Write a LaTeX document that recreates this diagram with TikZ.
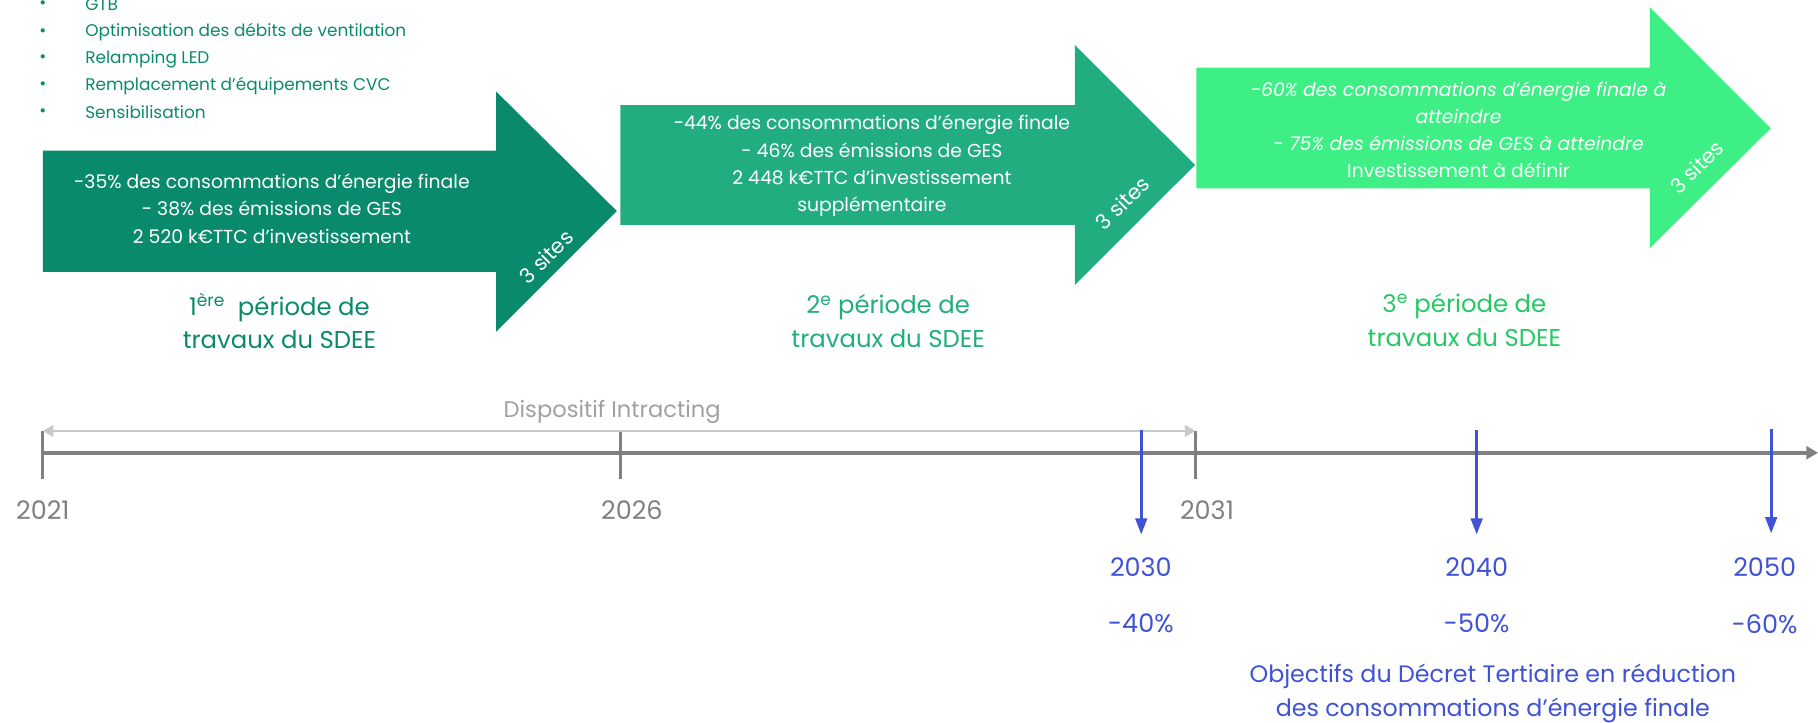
\documentclass[tikz,border=0pt]{standalone}
\usepackage{fontspec}
\setmainfont{Poppins}
\usetikzlibrary{arrows.meta}
\definecolor{gA}{HTML}{0A8A6C}
\definecolor{gB}{HTML}{22AD80}
\definecolor{gC}{HTML}{3DEF85}
\definecolor{gCt}{HTML}{26C864}
\definecolor{tl}{HTML}{808080}
\definecolor{tlL}{HTML}{C8C8C8}
\definecolor{tlT}{HTML}{A0A0A0}
\definecolor{bl}{HTML}{4052D6}
\begin{document}
\begin{tikzpicture}[x=1pt,y=-1pt,
  bodytext/.style={text=white, align=center, font=\fontsize{16.2}{23.5}\selectfont},
  period/.style={align=center, font=\fontsize{21}{29}\selectfont},
  sites/.style={text=white, rotate=45, font=\fontsize{18}{18}\selectfont},
  year/.style={text=tl, font=\fontsize{22}{22}\selectfont},
  byear/.style={text=bl, font=\fontsize{22}{22}\selectfont},
  bul/.style={text=gA, anchor=west, font=\fontsize{14.6}{16}\selectfont},
  bdot/.style={text=gA, font=\fontsize{14.6}{16}\selectfont},
  tlline/.style={draw=tl, line width=3.5pt},
  tick/.style={draw=tl, line width=2.5pt},
  intra/.style={draw=tlL, line width=2pt, {Triangle[length=9pt,width=10pt]}-{Triangle[length=9pt,width=10pt]}},
  blarrow/.style={draw=bl, line width=2.5pt, -{Triangle[length=14pt,width=10pt]}},
]
\useasboundingbox (0,0) rectangle (1568,623);

% big arrows
\fill[gA] (37,130) -- (428,130) -- (428,79) -- (532,182) -- (428,286) -- (428,234.5) -- (37,234.5) -- cycle;
\fill[gB] (535,90.6) -- (927,90.6) -- (927,38.8) -- (1030.7,142.3) -- (927,245.8) -- (927,194) -- (535,194) -- cycle;
\fill[gC] (1031.8,58.4) -- (1423,58.4) -- (1423,6.3) -- (1527.2,110.7) -- (1423,214) -- (1423,162.4) -- (1031.8,162.4) -- cycle;

% bullets
\foreach \yy/\tt [count=\i] in {4/GTB, 28/Optimisation des débits de ventilation, 51/Relamping LED, 74/Remplacement d’équipements CVC, 97/Sensibilisation}{
  \node[bdot] (bd\i) at (37,\yy) {•};
  \node[bul] (bt\i) at (70,\yy) {\tt};
}

% arrow texts
\node[bodytext] (t1) at (234.5,180) {-35\% des consommations d’énergie finale\\- 38\% des émissions de GES\\2 520 k€TTC d’investissement};
\node[bodytext] (t2) at (752,143) {-44\% des consommations d’énergie finale\\- 46\% des émissions de GES\\2 448 k€TTC d’investissement\\supplémentaire};
\node[bodytext] (t3) at (1258,112) {\textit{-60\% des consommations d’énergie finale à}\\\textit{atteindre}\\\textit{- 75\% des émissions de GES à atteindre}\\Investissement à définir};

\node[sites] (s1) at (471,221.5) {3 sites};
\node[sites] (s2) at (968,175) {3 sites};
\node[sites] (s3) at (1463.5,144) {3 sites};

\node[period, text=gA] (p1) at (241,277) {1\textsuperscript{ère}\ \ période de\\travaux du SDEE};
\node[period, text=gB] (p2) at (766,277) {2\textsuperscript{e} période de\\travaux du SDEE};
\node[period, text=gCt] (p3) at (1263,276) {3\textsuperscript{e} période de\\travaux du SDEE};

% timeline
\coordinate (t21) at (37,390.5);
\coordinate (tend) at (1568,390.5);
\draw[tlline, -{Triangle[length=10pt,width=11pt]}] (t21) -- (tend);
\coordinate (k21a) at (37,372); \coordinate (k21b) at (37,413);
\coordinate (k26a) at (535,372); \coordinate (k26b) at (535,413);
\coordinate (k31a) at (1031,372); \coordinate (k31b) at (1031,413);
\draw[tick] (k21a) -- (k21b);
\draw[tick] (k26a) -- (k26b);
\draw[tick] (k31a) -- (k31b);

\coordinate (ia) at (37,371.7);
\coordinate (ib) at (1031,371.7);
\draw[intra] (ia) -- (ib);
\node[text=tlT, font=\fontsize{19.5}{19.5}\selectfont] (intra) at (528,355) {Dispositif Intracting};

\node[year] (y21) at (37,440) {2021};
\node[year] (y26) at (545,440) {2026};
\node[year] (y31) at (1041,440) {2031};

% blue targets
\coordinate (b30) at (984.3,371);
\coordinate (b40) at (1273.6,370.7);
\coordinate (b50) at (1527.6,370);
\coordinate (e30) at (984.3,461);
\coordinate (e40) at (1273.6,461);
\coordinate (e50) at (1527.6,460);
\draw[blarrow] (b30) -- (e30);
\draw[blarrow] (b40) -- (e40);
\draw[blarrow] (b50) -- (e50);

\node[byear] (y30) at (984,489) {2030};
\node[byear] (y40) at (1273.6,489) {2040};
\node[byear] (y50) at (1522,489) {2050};
\node[byear] (r30) at (984,538) {-40\%};
\node[byear] (r40) at (1273.6,538) {-50\%};
\node[byear] (r50) at (1522,538) {-60\%};
\node[text=bl, align=center, font=\fontsize{20.5}{29.5}\selectfont] (obj) at (1287.5,598) {Objectifs du Décret Tertiaire en réduction\\des consommations d’énergie finale};
\end{tikzpicture}
\end{document}
